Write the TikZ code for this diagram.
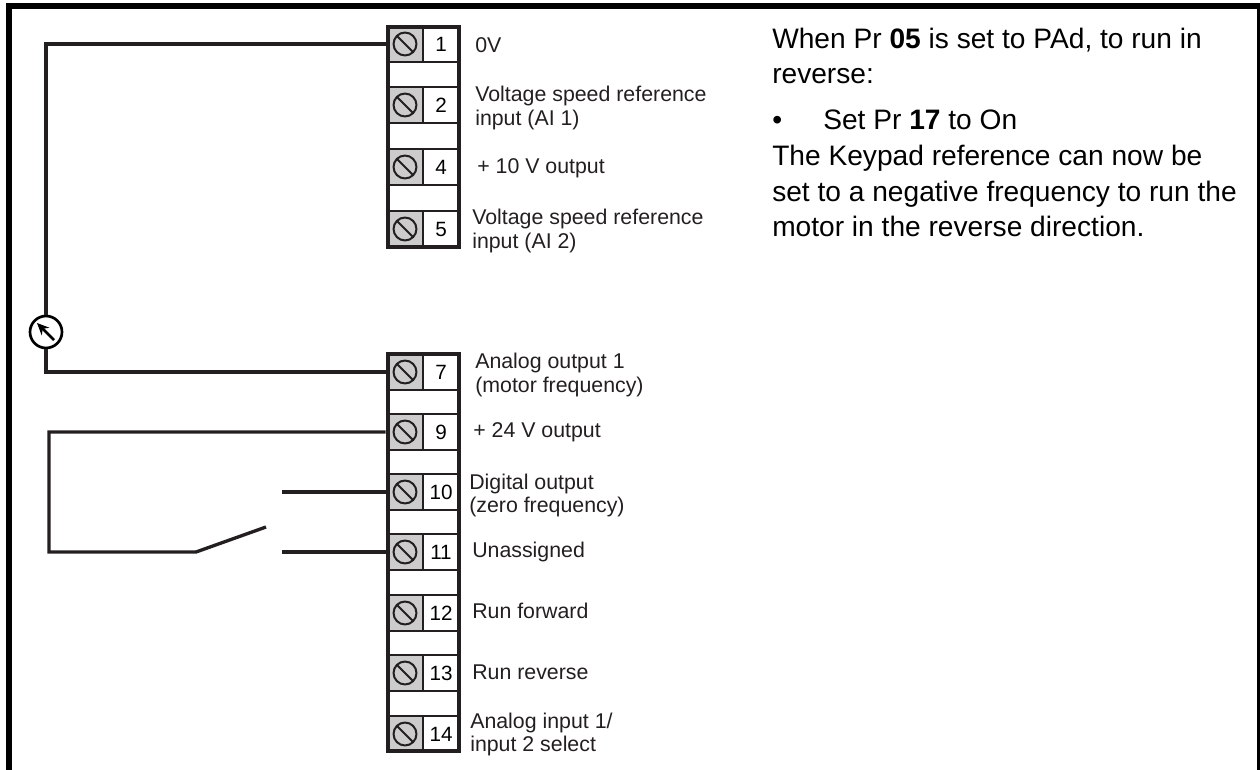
\documentclass[tikz,border=0pt]{standalone}
\usepackage{fontspec}
\setmainfont{Liberation Sans}
\usetikzlibrary{arrows.meta}
\definecolor{wire}{RGB}{35,31,32}
\definecolor{screwgrey}{RGB}{204,204,204}
\tikzset{
  screwcell/.style={draw=wire,line width=2pt,fill=screwgrey,minimum width=27pt,minimum height=27pt,inner sep=0pt},
  numcell/.style={draw=wire,line width=2pt,fill=white,minimum width=27pt,minimum height=27pt,inner sep=0pt,font=\fontsize{15.5pt}{18pt}\selectfont},
  termlabel/.style={anchor=base west,inner sep=0pt,text=wire,font=\fontsize{16pt}{18pt}\selectfont},
  wireline/.style={draw=wire,line width=2.5pt},
  note/.style={anchor=base west,inner sep=0pt,text=black,font=\fontsize{21.1pt}{25pt}\selectfont}
}
\begin{document}
\begin{tikzpicture}[x=0.75pt,y=-0.75pt]
\useasboundingbox (0,0) rectangle (1260,770);
\draw [black, line width=4.5pt] (9,770)--(9,6)--(1260,6)--(1260,770);

% terminal blocks
\draw [draw=wire, fill=white, line width=2.5pt] (388,27) rectangle (459,247);
\draw [draw=wire, fill=white, line width=2.5pt] (388,354) rectangle (459,751);
\foreach \n/\y in {1/44,2/105,4/167,5/229,7/372,9/432,10/492,11/552,12/613,13/673,14/734}{
  \node [screwcell] (s\n) at (405,\y) {};
  \node [numcell] (n\n) at (441,\y) {\n};
  \draw [wire, line width=1.5pt] (s\n.center) circle (8.6pt);
  \draw [wire, line width=1.5pt] ([shift={(-8,-8)}]s\n.center)--([shift={(8,8)}]s\n.center);
}
\draw [draw=wire, line width=2.5pt] (388,27) rectangle (459,247);
\draw [draw=wire, line width=2.5pt] (388,354) rectangle (459,751);

% labels
\node [termlabel] (l1) at (475,53) {0V};
\node [termlabel] (l2a) at (475,102) {Voltage speed reference};
\node [termlabel] (l2b) at (475,126) {input (AI 1)};
\node [termlabel] (l4) at (477,174) {+ 10 V output};
\node [termlabel] (l5a) at (472,224) {Voltage speed reference};
\node [termlabel] (l5b) at (472,248) {input (AI 2)};
\node [termlabel] (l7a) at (475,368) {Analog output 1};
\node [termlabel] (l7b) at (475,392) {(motor frequency)};
\node [termlabel] (l9) at (473,437) {+ 24 V output};
\node [termlabel] (l10a) at (469,489) {Digital output};
\node [termlabel] (l10b) at (469,512) {(zero frequency)};
\node [termlabel] (l11) at (472,557) {Unassigned};
\node [termlabel] (l12) at (472,618) {Run forward};
\node [termlabel] (l13) at (472,679) {Run reverse};
\node [termlabel] (l14a) at (470,728) {Analog input 1/};
\node [termlabel] (l14b) at (470,751) {input 2 select};

% meter
\node [draw=black, circle, line width=2pt, minimum size=24pt, inner sep=0pt] (meter) at (46,332) {};
\draw [-{Stealth[length=9pt,width=8pt]}, black, line width=2pt] ([shift={(8,8)}]meter.center)--([shift={(-9,-9)}]meter.center);

% wiring
\coordinate (swpivot) at (196,552);
\coordinate (swtip) at (266,527);
\coordinate (stubA) at (282,492);
\coordinate (stubB) at (282,552);
\draw [wireline] (s1.west)-|(meter.north);
\draw [wireline] (s7.west)-|(meter.south);
\draw [wireline] (s9.west)-|(49,552)--(swpivot)--(swtip);
\draw [wireline] (stubA)--(s10.west);
\draw [wireline] (stubB)--(s11.west);

% note
\node [note] (t1) at (772,49) {When Pr \textbf{05} is set to PAd, to run in};
\node [note] (t2) at (772,84) {reverse:};
\node [note] (t3) at (772,130) {•};
\node [note] (t4) at (823,130) {Set Pr \textbf{17} to On};
\node [note] (t5) at (772,166) {The Keypad reference can now be};
\node [note] (t6) at (772,201) {set to a negative frequency to run the};
\node [note] (t7) at (772,237) {motor in the reverse direction.};
\end{tikzpicture}
\end{document}
